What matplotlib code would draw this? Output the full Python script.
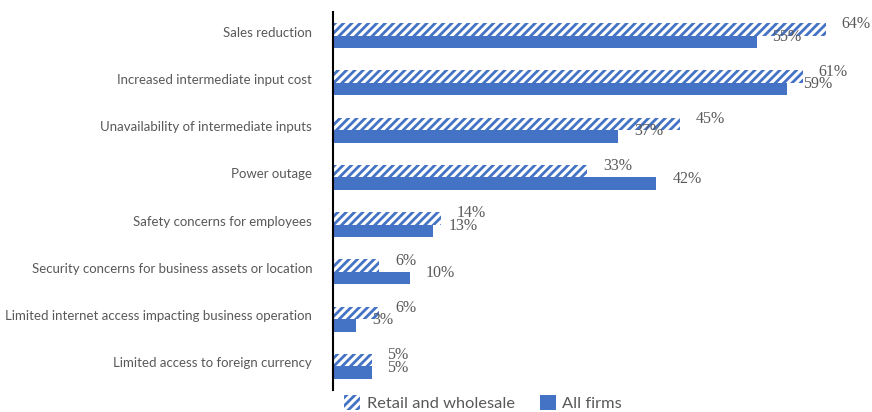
import matplotlib
matplotlib.use("Agg")
import matplotlib.pyplot as plt
import matplotlib.transforms as mtransforms
import numpy as np

categories = [
    "Sales reduction",
    "Increased intermediate input cost",
    "Unavailability of intermediate inputs",
    "Power outage",
    "Safety concerns for employees",
    "Security concerns for business assets or location",
    "Limited internet access impacting business operation",
    "Limited access to foreign currency",
]
retail_wholesale = [64, 61, 45, 33, 14, 6, 6, 5]
all_firms = [55, 59, 37, 42, 13, 10, 3, 5]

BLUE = "#4472C4"
GREY = "#595959"

plt.rcParams["hatch.linewidth"] = 2.0
plt.rcParams["hatch.color"] = BLUE

fig = plt.figure(figsize=(8.72, 4.12), dpi=100)
ax = fig.add_axes([333 / 872, 22 / 412, 539 / 872, 378 / 412])

y = np.arange(len(categories))
h = 0.265

bars_r = ax.barh(y - h / 2, retail_wholesale, height=h, color="white",
                 edgecolor=BLUE, hatch="////", linewidth=0,
                 label="Retail and wholesale")
bars_a = ax.barh(y + h / 2, all_firms, height=h, color=BLUE,
                 linewidth=0, label="All firms")

for bars, vals in ((bars_r, retail_wholesale), (bars_a, all_firms)):
    for b, v in zip(bars, vals):
        ax.annotate(f"{v}%", (b.get_width(), b.get_y() + b.get_height() / 2),
                    xytext=(16, 5), textcoords="offset pixels",
                    ha="left", va="center", fontsize=11.5, color=GREY,
                    family="Liberation Serif", annotation_clip=False)

ax.set_xlim(0, 70)
ax.set_ylim(len(categories) - 0.5, -0.5)
ax.set_yticks(y)
ax.set_yticklabels(categories, fontsize=9.5, color=GREY, family="Lato")
ax.tick_params(axis="y", length=0, pad=15)
ax.set_xticks([])
for side in ("top", "right", "bottom"):
    ax.spines[side].set_visible(False)
ax.spines["left"].set_linewidth(1.5)
ax.spines["left"].set_color("black")

shift = mtransforms.ScaledTranslation(0, 4 / 100, fig.dpi_scale_trans)
for lbl in ax.get_yticklabels():
    lbl.set_transform(lbl.get_transform() + shift)

fig.legend(handles=[bars_r, bars_a], loc="center",
           bbox_to_anchor=(0.554, 0.022), ncol=2, frameon=False,
           handlelength=1.0, handleheight=1.0, handletextpad=0.4,
           columnspacing=1.5, prop={"family": "Lato", "size": 11.8},
           labelcolor=GREY)

fig.savefig("out.png", dpi=100)
